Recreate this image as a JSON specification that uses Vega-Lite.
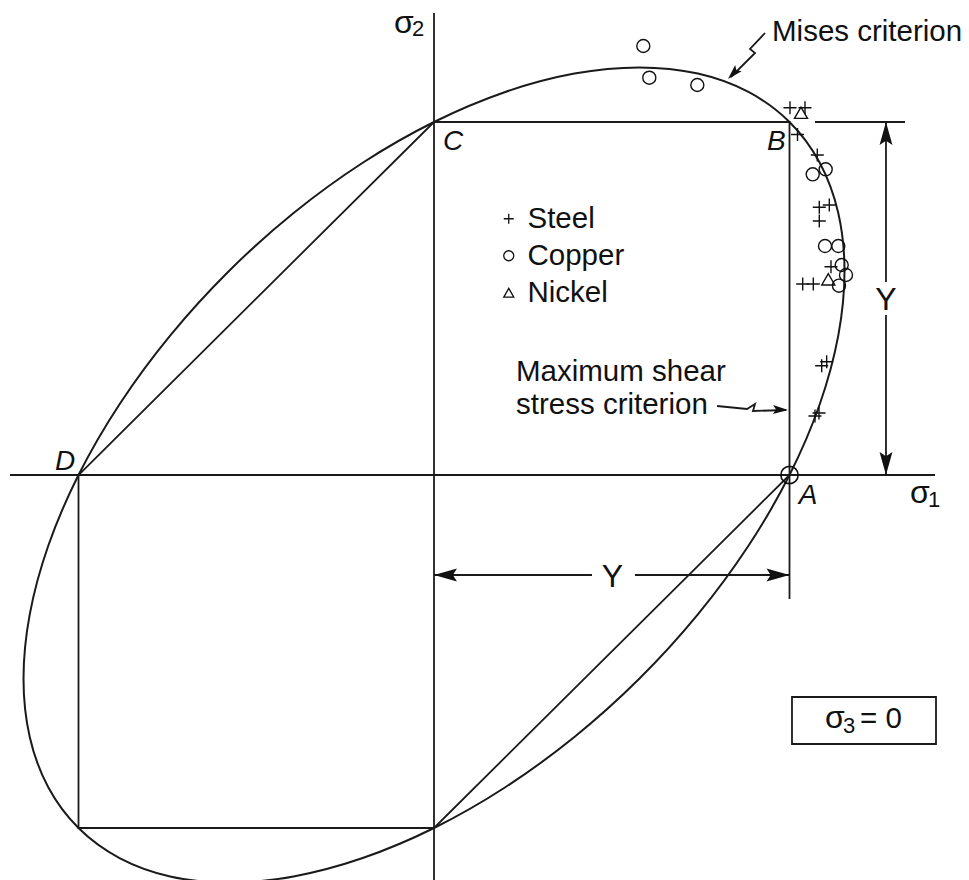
{
  "$schema": "https://vega.github.io/schema/vega-lite/v6.json",
  "width": 969,
  "height": 880,
  "autosize": {"type": "none"},
  "padding": 0,
  "background": "white",
  "config": {
    "view": {"stroke": null},
    "legend": {
      "orient": "none",
      "legendX": 494,
      "legendY": 204,
      "title": null,
      "symbolSize": 100,
      "symbolStrokeWidth": 1.3,
      "symbolStrokeColor": "#111",
      "symbolFillColor": "transparent",
      "labelFont": "Liberation Sans",
      "labelFontSize": 29.5,
      "labelColor": "#111",
      "labelOffset": 4,
      "rowPadding": 6
    }
  },
  "datasets": {
    "mises": [
      {"i": 0, "x": 1, "y": 1},
      {"i": 1, "x": 0.88455, "y": 1.08507},
      {"i": 2, "x": 0.74222, "y": 1.13716},
      {"i": 3, "x": 0.57735, "y": 1.1547},
      {"i": 4, "x": 0.39492, "y": 1.13716},
      {"i": 5, "x": 0.20051, "y": 1.08507},
      {"i": 6, "x": 0, "y": 1},
      {"i": 7, "x": -0.20051, "y": 0.88455},
      {"i": 8, "x": -0.39493, "y": 0.74223},
      {"i": 9, "x": -0.57735, "y": 0.57735},
      {"i": 10, "x": -0.74223, "y": 0.39493},
      {"i": 11, "x": -0.88455, "y": 0.20051},
      {"i": 12, "x": -1, "y": 0},
      {"i": 13, "x": -1.08507, "y": -0.20051},
      {"i": 14, "x": -1.13716, "y": -0.39492},
      {"i": 15, "x": -1.1547, "y": -0.57735},
      {"i": 16, "x": -1.13716, "y": -0.74222},
      {"i": 17, "x": -1.08507, "y": -0.88455},
      {"i": 18, "x": -1, "y": -1},
      {"i": 19, "x": -0.88455, "y": -1.08507},
      {"i": 20, "x": -0.74222, "y": -1.13716},
      {"i": 21, "x": -0.57735, "y": -1.1547},
      {"i": 22, "x": -0.39492, "y": -1.13716},
      {"i": 23, "x": -0.20051, "y": -1.08507},
      {"i": 24, "x": 0, "y": -1},
      {"i": 25, "x": 0.20051, "y": -0.88455},
      {"i": 26, "x": 0.39493, "y": -0.74223},
      {"i": 27, "x": 0.57735, "y": -0.57735},
      {"i": 28, "x": 0.74223, "y": -0.39493},
      {"i": 29, "x": 0.88455, "y": -0.20051},
      {"i": 30, "x": 1, "y": 0},
      {"i": 31, "x": 1.08507, "y": 0.20051},
      {"i": 32, "x": 1.13716, "y": 0.39492},
      {"i": 33, "x": 1.1547, "y": 0.57735},
      {"i": 34, "x": 1.13716, "y": 0.74222},
      {"i": 35, "x": 1.08507, "y": 0.88455}
    ],
    "strokes": [
      {"seg": "sigma1", "i": 0, "x": -1.1927, "y": 0},
      {"seg": "sigma1", "i": 1, "x": 1.4093, "y": 0},
      {"seg": "sigma2", "i": 0, "x": 0, "y": 1.3088},
      {"seg": "sigma2", "i": 1, "x": 0, "y": -1.2},
      {"seg": "tresca", "i": 0, "x": 1, "y": 0},
      {"seg": "tresca", "i": 1, "x": 1, "y": 1},
      {"seg": "tresca", "i": 2, "x": 0, "y": 1},
      {"seg": "tresca", "i": 3, "x": -1, "y": 0},
      {"seg": "tresca", "i": 4, "x": -1, "y": -1},
      {"seg": "tresca", "i": 5, "x": 0, "y": -1},
      {"seg": "tresca", "i": 6, "x": 1, "y": 0},
      {"seg": "extB", "i": 0, "x": 1.0717, "y": 1},
      {"seg": "extB", "i": 1, "x": 1.3249, "y": 1},
      {"seg": "dimV1", "i": 0, "x": 1.2714, "y": 1},
      {"seg": "dimV1", "i": 1, "x": 1.2714, "y": 0.5467},
      {"seg": "dimV2", "i": 0, "x": 1.2714, "y": 0.4533},
      {"seg": "dimV2", "i": 1, "x": 1.2714, "y": 0},
      {"seg": "dimH1", "i": 0, "x": 0, "y": -0.2833},
      {"seg": "dimH1", "i": 1, "x": 0.4444, "y": -0.2833},
      {"seg": "dimH2", "i": 0, "x": 0.5654, "y": -0.2833},
      {"seg": "dimH2", "i": 1, "x": 1, "y": -0.2833},
      {"seg": "tickA", "i": 0, "x": 1, "y": 0},
      {"seg": "tickA", "i": 1, "x": 1, "y": -0.3513},
      {"seg": "misesLeader", "i": 0, "x": 0.9311, "y": 1.2521},
      {"seg": "misesLeader", "i": 1, "x": 0.8889, "y": 1.2068},
      {"seg": "misesLeader", "i": 2, "x": 0.903, "y": 1.1955},
      {"seg": "misesLeader", "i": 3, "x": 0.8354, "y": 1.1275},
      {"seg": "shearLeader", "i": 0, "x": 0.7961, "y": 0.1955},
      {"seg": "shearLeader", "i": 1, "x": 0.8805, "y": 0.187},
      {"seg": "shearLeader", "i": 2, "x": 0.903, "y": 0.2011},
      {"seg": "shearLeader", "i": 3, "x": 0.8973, "y": 0.1813},
      {"seg": "shearLeader", "i": 4, "x": 0.9902, "y": 0.1841}
    ],
    "arrowheads": [
      {"x": 1.2714, "y": 1, "dir": "up"},
      {"x": 1.2714, "y": 0, "dir": "down"},
      {"x": 1, "y": -0.2833, "dir": "right"},
      {"x": 0, "y": -0.2833, "dir": "left"},
      {"x": 0.827, "y": 1.1218, "dir": "mises"},
      {"x": 0.9958, "y": 0.1841, "dir": "shear"}
    ],
    "tests": [
      {"metal": "Copper", "x": 0.5888, "y": 1.2153},
      {"metal": "Copper", "x": 0.6056, "y": 1.1255},
      {"metal": "Copper", "x": 0.7407, "y": 1.1048},
      {"metal": "Copper", "x": 1.0653, "y": 0.8518},
      {"metal": "Copper", "x": 1.1018, "y": 0.866},
      {"metal": "Copper", "x": 1.0999, "y": 0.6487},
      {"metal": "Copper", "x": 1.1373, "y": 0.6487},
      {"metal": "Copper", "x": 1.1468, "y": 0.5949},
      {"metal": "Copper", "x": 1.1589, "y": 0.5666},
      {"metal": "Copper", "x": 1.1392, "y": 0.5363},
      {"metal": "Steel", "x": 1.0014, "y": 1.0405},
      {"metal": "Steel", "x": 1.0436, "y": 1.0405},
      {"metal": "Steel", "x": 1.0225, "y": 0.9646},
      {"metal": "Steel", "x": 1.0782, "y": 0.9065},
      {"metal": "Steel", "x": 1.112, "y": 0.7649},
      {"metal": "Steel", "x": 1.0838, "y": 0.7584},
      {"metal": "Steel", "x": 1.0838, "y": 0.7195},
      {"metal": "Steel", "x": 1.0371, "y": 0.5411},
      {"metal": "Steel", "x": 1.0669, "y": 0.5411},
      {"metal": "Steel", "x": 1.1167, "y": 0.5901},
      {"metal": "Steel", "x": 1.0906, "y": 0.3096},
      {"metal": "Steel", "x": 1.1046, "y": 0.321},
      {"metal": "Steel", "x": 1.0717, "y": 0.1671},
      {"metal": "Steel", "x": 1.083, "y": 0.1756},
      {"metal": "Nickel", "x": 1.0323, "y": 1.0263},
      {"metal": "Nickel", "x": 1.1091, "y": 0.5544}
    ],
    "corners": [
      {"label": "C", "x": 0.0253, "y": 0.9207},
      {"label": "B", "x": 0.9367, "y": 0.9207},
      {"label": "D", "x": -1.0661, "y": 0.0142},
      {"label": "A", "x": 1.0259, "y": -0.0822}
    ],
    "dimLabels": [
      {"label": "Y", "x": 1.2714, "y": 0.4674},
      {"label": "Y", "x": 0.5021, "y": -0.3173}
    ],
    "notes": [
      {"label": "Mises criterion", "x": 0.9508, "y": 1.2295},
      {"label": "Maximum shear", "x": 0.2307, "y": 0.2663},
      {"label": "stress criterion", "x": 0.2307, "y": 0.1728},
      {"label": "= 0", "x": 1.1983, "y": -0.7167}
    ],
    "sigmas": [
      {"label": "σ", "x": -0.1125, "y": 1.2521},
      {"label": "σ", "x": 1.339, "y": -0.0793},
      {"label": "σ", "x": 1.0999, "y": -0.7167}
    ],
    "subscripts": [
      {"label": "2", "x": -0.0619, "y": 1.2436},
      {"label": "1", "x": 1.3896, "y": -0.0907},
      {"label": "3", "x": 1.1505, "y": -0.7309}
    ],
    "stateBox": [
      {"x": 1.007, "x2": 1.4121, "y": -0.6289, "y2": -0.762}
    ],
    "pointA": [
      {"x": 1, "y": 0}
    ]
  },
  "encoding": {
    "x": {"field": "x", "type": "quantitative", "scale": {"domain": [-1.22082, 1.50492], "nice": false, "zero": false}, "axis": null},
    "y": {"field": "y", "type": "quantitative", "scale": {"domain": [-1.14731, 1.34561], "nice": false, "zero": false}, "axis": null}
  },
  "layer": [
    {
      "data": {"name": "mises"},
      "mark": {"type": "line", "interpolate": "cardinal-closed", "clip": true, "stroke": "#1a1a1a", "strokeWidth": 2},
      "encoding": {"order": {"field": "i", "type": "quantitative"}}
    },
    {
      "data": {"name": "strokes"},
      "mark": {"type": "line", "clip": true, "stroke": "#1a1a1a", "strokeWidth": 1.8},
      "encoding": {
        "detail": {"field": "seg", "type": "nominal"},
        "order": {"field": "i", "type": "quantitative"}
      }
    },
    {
      "data": {"name": "arrowheads"},
      "transform": [{"filter": "datum.dir === 'up'"}],
      "mark": {"type": "point", "shape": "M0,0L0.28,1L0,0.82L-0.28,1Z", "filled": true, "color": "#111", "size": 2116, "opacity": 1, "angle": 0}
    },
    {
      "data": {"name": "arrowheads"},
      "transform": [{"filter": "datum.dir === 'down'"}],
      "mark": {"type": "point", "shape": "M0,0L0.28,1L0,0.82L-0.28,1Z", "filled": true, "color": "#111", "size": 2116, "opacity": 1, "angle": 180}
    },
    {
      "data": {"name": "arrowheads"},
      "transform": [{"filter": "datum.dir === 'right'"}],
      "mark": {"type": "point", "shape": "M0,0L0.28,1L0,0.82L-0.28,1Z", "filled": true, "color": "#111", "size": 2116, "opacity": 1, "angle": 90}
    },
    {
      "data": {"name": "arrowheads"},
      "transform": [{"filter": "datum.dir === 'left'"}],
      "mark": {"type": "point", "shape": "M0,0L0.28,1L0,0.82L-0.28,1Z", "filled": true, "color": "#111", "size": 2116, "opacity": 1, "angle": 270}
    },
    {
      "data": {"name": "arrowheads"},
      "transform": [{"filter": "datum.dir === 'mises'"}],
      "mark": {"type": "point", "shape": "M0,0L0.3,1L0,0.8L-0.3,1Z", "filled": true, "color": "#111", "size": 900, "opacity": 1, "angle": 224}
    },
    {
      "data": {"name": "arrowheads"},
      "transform": [{"filter": "datum.dir === 'shear'"}],
      "mark": {"type": "point", "shape": "M0,0L0.3,1L0,0.8L-0.3,1Z", "filled": true, "color": "#111", "size": 900, "opacity": 1, "angle": 92}
    },
    {
      "data": {"name": "tests"},
      "mark": {"type": "point", "filled": false, "color": "#111", "strokeWidth": 1.4, "size": 170, "opacity": 1},
      "encoding": {
        "shape": {
          "field": "metal",
          "type": "nominal",
          "scale": {"domain": ["Steel", "Copper", "Nickel"], "range": ["M-1,0L1,0M0,-1L0,1", "circle", "triangle-up"]},
          "legend": {"symbolStrokeColor": "#111"}
        }
      }
    },
    {
      "data": {"name": "pointA"},
      "mark": {"type": "point", "shape": "circle", "filled": false, "color": "#111", "strokeWidth": 1.6, "size": 300, "opacity": 1}
    },
    {
      "data": {"name": "stateBox"},
      "mark": {"type": "rect", "fill": null, "stroke": "#1a1a1a", "strokeWidth": 1.8},
      "encoding": {
        "x2": {"field": "x2"},
        "y2": {"field": "y2"}
      }
    },
    {
      "data": {"name": "corners"},
      "mark": {"type": "text", "font": "Liberation Sans", "fontSize": 28, "fontStyle": "italic", "align": "left", "baseline": "alphabetic", "color": "#111"},
      "encoding": {"text": {"field": "label"}}
    },
    {
      "data": {"name": "dimLabels"},
      "mark": {"type": "text", "font": "Liberation Sans", "fontSize": 32, "align": "center", "baseline": "alphabetic", "color": "#111"},
      "encoding": {"text": {"field": "label"}}
    },
    {
      "data": {"name": "notes"},
      "mark": {"type": "text", "font": "Liberation Sans", "fontSize": 29.5, "align": "left", "baseline": "alphabetic", "color": "#111"},
      "encoding": {"text": {"field": "label"}}
    },
    {
      "data": {"name": "sigmas"},
      "mark": {"type": "text", "font": "Liberation Sans", "fontSize": 32, "align": "left", "baseline": "alphabetic", "color": "#111"},
      "encoding": {"text": {"field": "label"}}
    },
    {
      "data": {"name": "subscripts"},
      "mark": {"type": "text", "font": "Liberation Sans", "fontSize": 22, "align": "left", "baseline": "alphabetic", "color": "#111"},
      "encoding": {"text": {"field": "label"}}
    }
  ]
}
